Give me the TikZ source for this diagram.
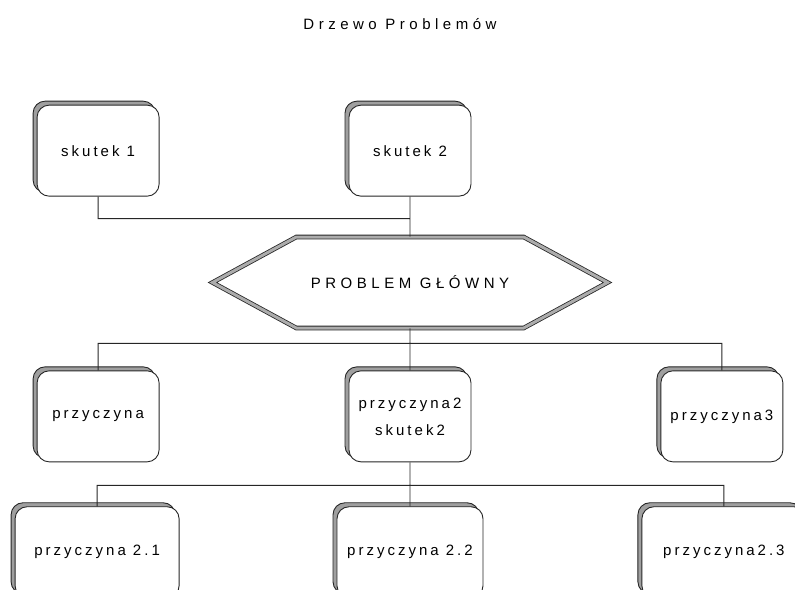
\documentclass[tikz,border=0pt]{standalone}
\usepackage{fontspec}
\newfontfamily\napisy[LetterSpace=20]{Liberation Sans}
\newfontfamily\naglowek[LetterSpace=30]{Liberation Sans}
\usetikzlibrary{positioning,shapes.symbols,shadows,calc}
\tikzset{
	kostka/.style={draw=black!85, line width=0.9pt, fill=white, rounded corners=12pt, minimum width=122pt, minimum height=91pt, align=center, text=black, font=\napisy\fontsize{15}{27}\selectfont, drop shadow={shadow xshift=-4pt, shadow yshift=4pt, fill=gray!75, draw=black!85, opacity=1}}, % zaokraglone pudelko z cieniem
	szeroka/.style={kostka, minimum width=164pt}, % szersze pudelko na dole
	hexa/.style={signal, signal to=west and east, signal pointer angle=57, draw=black!85, line width=0.8pt, double=gray!65, double distance=3pt, fill=white, minimum width=395pt, minimum height=91pt, text=black, font=\naglowek\fontsize{15}{18}\selectfont}, % szesciokat problemu
	tytul/.style={text=black, font=\naglowek\fontsize{15}{18}\selectfont}, % naglowek
	lacznik/.style={draw=black!85, line width=0.9pt}, % linie laczace
}
\begin{document}
\begin{tikzpicture}[x=1pt,y=-1pt]
	\useasboundingbox (0,0) rectangle (795,589);
	\clip (0,0) rectangle (795,589);
	\node[tytul] (tytul) at (400,24) {Drzewo Problemów};
	\node[hexa] (problem) at (410,282.5) {PROBLEM GŁÓWNY};
	\node[kostka,above=40pt of problem] (skutek2) {skutek 2};
	\node[kostka,left=189pt of skutek2] (skutek1) {skutek 1};
	\node[kostka,below=42pt of problem] (p2) {przyczyna2\\skutek2};
	\node[kostka,left=189pt of p2] (p1) {przyczyna};
	\node[kostka,right=189pt of p2] (p3) {przyczyna3};
	\node[kostka,minimum width=146pt,below=44pt of p2] (p22) {przyczyna 2.2};
	\node[szeroka,left=157pt of p22] (p21) {przyczyna 2.1};
	\node[szeroka,right=158pt of p22] (p23) {przyczyna2.3};
	
	\coordinate (w1) at ($(skutek2.south)+(0,22)$);
	\coordinate (w2) at ($(problem.south)+(0,15)$);
	\coordinate (w3) at ($(p2.south)+(0,23)$);
	\draw[lacznik] (skutek2) -- (problem)
		(skutek1.south) |- (w1)
		(problem) -- (p2)
		(p1.north) |- (w2) -| (p3.north)
		(p2) -- (p22)
		(p21.north) |- (w3) -| (p23.north);
\end{tikzpicture}
\end{document}
